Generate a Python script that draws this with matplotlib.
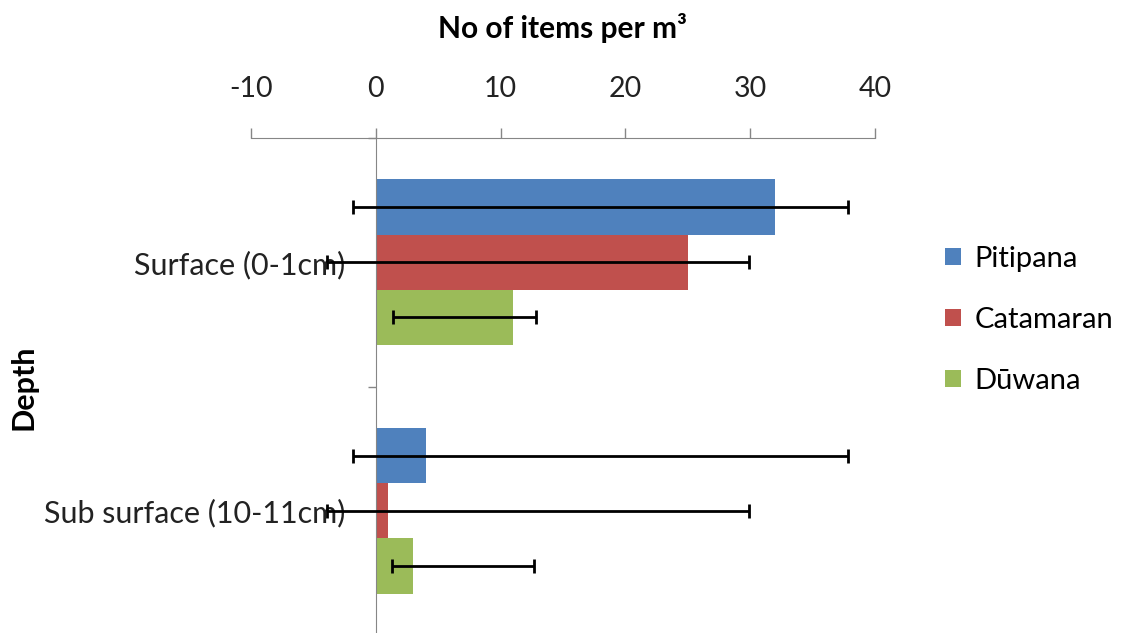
import matplotlib
matplotlib.use("Agg")
import matplotlib.pyplot as plt
import numpy as np
from matplotlib.patches import Patch

plt.rcParams['font.family'] = ['Lato', 'DejaVu Sans']

categories = ["Surface (0-1cm)", "Sub surface (10-11cm)"]
series = ["Pitipana", "Catamaran", "Dūwana"]
values = {
    "Pitipana": [32, 4],
    "Catamaran": [25, 1],
    "Dūwana": [11, 3],
}
err_low = {
    "Pitipana": [33.8, 5.8],
    "Catamaran": [28.9, 4.9],
    "Dūwana": [9.6, 1.7],
}
err_high = {
    "Pitipana": [5.8, 33.8],
    "Catamaran": [4.9, 28.9],
    "Dūwana": [1.8, 9.7],
}
colors = ["#4F81BD", "#C0504D", "#9BBB59"]
xticks = [-10, 0, 10, 20, 30, 40]

fig = plt.figure(figsize=(11.22, 6.33), dpi=100)
W, H = 1122, 633
ax = fig.add_axes([251 / W, (633 - 635) / H, (875 - 251) / W, (635 - 138) / H])

y = np.arange(len(categories))
bh = 0.222
offsets = [-bh, 0, bh]
for i, s in enumerate(series):
    ax.barh(y + offsets[i], values[s], height=bh, color=colors[i], zorder=2)
for i, s in enumerate(series):
    ax.errorbar(values[s], y + offsets[i], xerr=[err_low[s], err_high[s]], fmt='none',
                ecolor='black', elinewidth=2.0, capsize=5, capthick=2.0, zorder=3)

ax.set_xlim(-10, 40)
ax.set_ylim(1.5, -0.5)
ax.xaxis.tick_top()
ax.set_xticks(xticks)
ax.set_xticklabels([str(t) for t in xticks], fontsize=20.5, color='#222222')
ax.tick_params(axis='x', which='major', direction='out', length=7, width=1, color='#868686', pad=19)

for sp in ['right', 'bottom']:
    ax.spines[sp].set_visible(False)
ax.spines['top'].set_color('#868686')
ax.spines['left'].set_color('#868686')
ax.spines['left'].set_position(('data', 0))

ax.set_yticks([-0.5, 0.5, 1.5])
ax.set_yticklabels([])
ax.set_yticks(y, minor=True)
ax.set_yticklabels(categories, minor=True, fontsize=22, color='#222222')
ax.tick_params(axis='y', which='major', direction='out', length=6, width=1, color='#868686')
ax.tick_params(axis='y', which='minor', length=0, pad=22)

fig.text(563 / W, 1 - 28 / H, "No of items per m³", ha='center', va='center',
         fontsize=21.5, fontweight='bold')
fig.text(23 / W, 1 - 387 / H, "Depth", ha='center', va='center', rotation=90,
         fontsize=22, fontweight='bold')

handles = [Patch(facecolor=c, edgecolor='none') for c in colors]
leg = fig.legend(handles, series, loc='upper left', bbox_to_anchor=(945 / W, 1 - 246 / H),
                 frameon=False, fontsize=21, handlelength=0.55, handleheight=0.55,
                 handletextpad=0.45, labelspacing=1.2, borderaxespad=0, borderpad=0)

fig.savefig("out.png", dpi=100)
